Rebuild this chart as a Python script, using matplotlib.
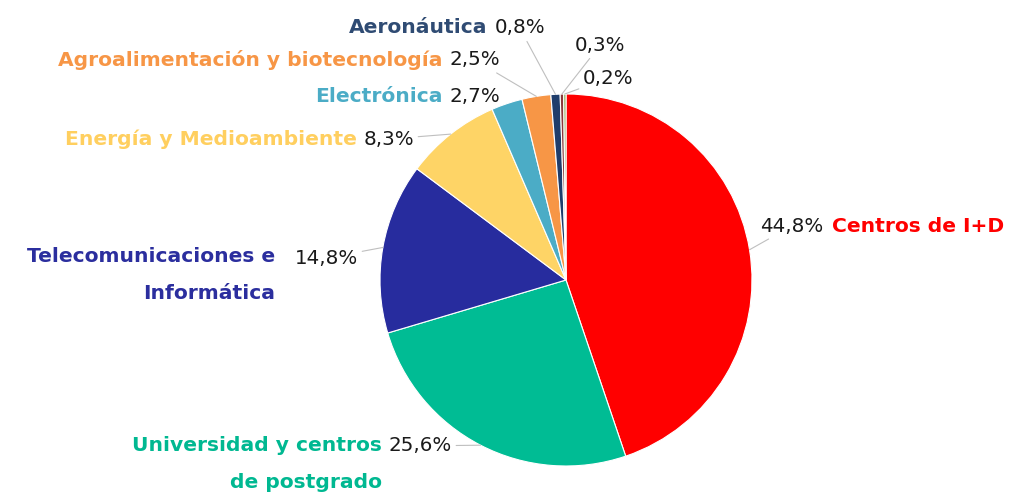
import numpy as np
import matplotlib.pyplot as plt

# data
categories = ['Centros de I+D', 'Universidad y centros\nde postgrado',
              'Telecomunicaciones e\nInformática', 'Energía y Medioambiente',
              'Electrónica', 'Agroalimentación y biotecnología', 'Aeronáutica',
              '', '']
shares = [44.8, 25.6, 14.8, 8.3, 2.7, 2.5, 0.8, 0.3, 0.2]
colors = ['#FF0000', '#00BC94', '#272C9E', '#FED466', '#4BACC6',
          '#F79646', '#1F3D6B', '#8B3A3A', '#8DAA4F']
label_colors = ['#FF0000', '#00B891', '#2B2E9E', '#FFCF5F', '#4BACC6',
                '#F79646', '#2F4B73', '#000000', '#000000']

# label layout (pie units, radius = 1): text position, alignment, leader line
label_pos = [(1.043, 0.29), (-0.613, -0.892), (-1.118, 0.118), (-0.817, 0.758),
             (-0.355, 0.989), (-0.355, 1.183), (-0.113, 1.355), (0.048, 1.263),
             (0.091, 1.086)]
label_ha = ['left', 'right', 'right', 'right', 'right', 'right', 'right', 'left', 'left']
leader = [True, True, True, True, False, True, True, True, True]

fig = plt.figure(figsize=(10.15, 4.97), dpi=100)
ax = fig.add_axes([0, 0, 1, 1])

wedges, _ = ax.pie(shares, colors=colors, startangle=90, counterclock=False,
                   radius=1.0, center=(0, 0),
                   wedgeprops=dict(edgecolor='white', linewidth=0.8))

ax.set_xlim(-566 / 186, (1015 - 566) / 186)
ax.set_ylim((280 - 497) / 186, 280 / 186)
ax.set_aspect('equal')
ax.axis('off')

for w, share, cat, lc, pos, ha, lead in zip(wedges, shares, categories, label_colors,
                                             label_pos, label_ha, leader):
    ang = np.deg2rad((w.theta1 + w.theta2) / 2)
    edge = (np.cos(ang), np.sin(ang))
    pct = f'{share:.1f}%'.replace('.', ',')
    arrow = dict(arrowstyle='-', color='#BFBFBF', lw=0.8, shrinkA=1, shrinkB=0) if lead else None
    t = ax.annotate(pct, xy=edge, xytext=pos, ha=ha, va='center',
                    fontsize=14.3, color='#1a1a1a', arrowprops=arrow)
    if not cat:
        continue
    if ha == 'left':
        ax.annotate(cat, xy=(1, 1), xycoords=t, xytext=(6, 0),
                    textcoords='offset points', ha='left', va='top',
                    fontsize=14.6, fontweight='bold', color=lc, linespacing=2.15)
    else:
        gap = 14 if cat.startswith('Tele') else 5
        ax.annotate(cat, xy=(0, 1), xycoords=t, xytext=(-gap, 0),
                    textcoords='offset points', ha='right', va='top',
                    fontsize=14.6, fontweight='bold', color=lc, linespacing=2.15)

fig.savefig('out.png', dpi=100)
